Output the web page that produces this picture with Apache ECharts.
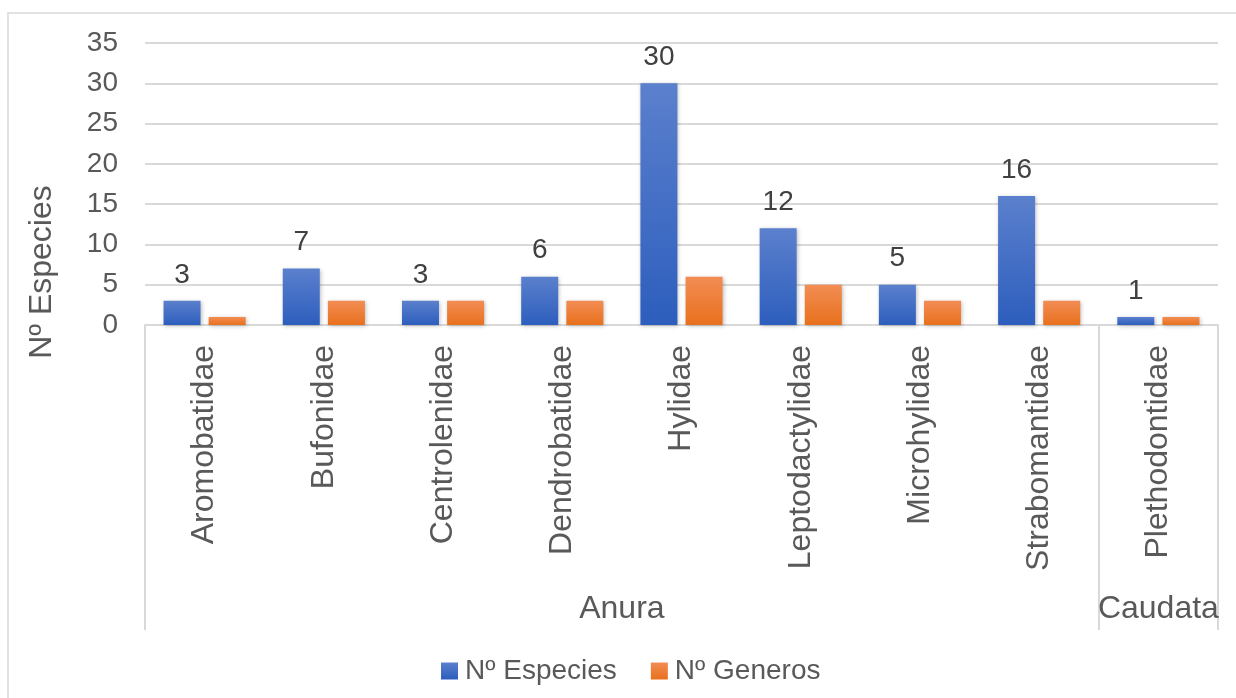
<!DOCTYPE html>
<html>
<head>
<meta charset="utf-8">
<script src="https://cdn.jsdelivr.net/npm/echarts@6/dist/echarts.min.js"></script>
<style>
  html, body { margin: 0; padding: 0; background: #ffffff; }
  #chart { width: 1236px; height: 698px; }
</style>
</head>
<body>
<div id="chart"></div>
<script>
// Families (inner level) and their order (outer level)
const families = ['Aromobatidae', 'Bufonidae', 'Centrolenidae', 'Dendrobatidae', 'Hylidae',
                  'Leptodactylidae', 'Microhylidae', 'Strabomantidae', 'Plethodontidae'];
const orders = ['Anura', 'Caudata'];
const orderSpans = [8, 1];           // number of families in each order
const especies = [3, 7, 3, 6, 30, 12, 5, 16, 1];
const generos  = [1, 3, 3, 3, 6, 5, 3, 3, 1];
const yTicks = [0, 5, 10, 15, 20, 25, 30, 35];

const FONT = '"Liberation Sans", Arial, sans-serif';
const TEXT = '#595959';
const GRID = '#d9d9d9';

// Outer-level axis uses half-category steps so group boundaries and group centres fall on points
const halfSteps = families.length * 2 + 1;
const groupKeys = [];
for (let i = 0; i < halfSteps; i++) groupKeys.push('h' + i);
const boundaryIdx = [0];
const labelIdx = {};
let acc = 0;
orderSpans.forEach((span, k) => {
  labelIdx[acc + span] = orders[k];   // centre of group in half steps
  acc += span * 2;
  boundaryIdx.push(acc);
});

const chart = echarts.init(document.getElementById('chart'), null, { renderer: 'canvas' });

const blueFill = new echarts.graphic.LinearGradient(0, 0, 0, 1, [
  { offset: 0, color: '#5b80cd' }, { offset: 1, color: '#2d5ebd' }
]);
const orangeFill = new echarts.graphic.LinearGradient(0, 0, 0, 1, [
  { offset: 0, color: '#f28d54' }, { offset: 1, color: '#e8701d' }
]);

chart.setOption({
  animation: false,
  backgroundColor: '#ffffff',
  textStyle: { fontFamily: FONT },
  grid: { left: 145, right: 18, top: 43, bottom: 373, containLabel: false },
  legend: {
    left: 436, top: 652,
    itemWidth: 17, itemHeight: 17, itemGap: 34,
    icon: 'rect',
    textStyle: { fontFamily: FONT, fontSize: 28, color: TEXT, padding: [0, 0, 0, 2] },
    data: ['Nº Especies', 'Nº Generos']
  },
  xAxis: [
    {
      type: 'category',
      data: families,
      axisLine: { show: true, lineStyle: { color: GRID, width: 2 } },
      axisTick: { show: false },
      axisLabel: { rotate: 90, margin: 20, fontSize: 32, color: TEXT, fontFamily: FONT, interval: 0 },
      splitLine: { show: false }
    },
    {
      type: 'category',
      position: 'bottom',
      boundaryGap: false,
      data: groupKeys,
      axisLine: { show: false },
      axisTick: {
        show: true, length: 305,
        interval: (idx) => boundaryIdx.indexOf(idx) !== -1,
        lineStyle: { color: GRID, width: 2 }
      },
      axisLabel: {
        show: true, margin: 268, fontSize: 32, color: TEXT, fontFamily: FONT,
        interval: (idx) => labelIdx[idx] !== undefined,
        formatter: (val, idx) => labelIdx[idx] || ''
      },
      splitLine: { show: false }
    }
  ],
  yAxis: {
    type: 'value',
    min: yTicks[0], max: yTicks[yTicks.length - 1], interval: 5,
    axisLine: { show: false },
    axisTick: { show: false },
    axisLabel: { margin: 27, fontSize: 28, color: TEXT, fontFamily: FONT },
    splitLine: { lineStyle: { color: GRID, width: 2 } }
  },
  graphic: [
    {
      type: 'rect', silent: true, z: -1,
      shape: { x: 8, y: 13, width: 1300, height: 800 },
      style: { fill: 'none', stroke: GRID, lineWidth: 1.5 }
    },
    {
      type: 'text', x: 42, y: 272, rotation: Math.PI / 2,
      style: { text: 'Nº Especies', fontSize: 32, fontFamily: FONT, fill: TEXT, align: 'center', verticalAlign: 'middle' }
    }
  ],
  series: [
    {
      name: 'Nº Especies', type: 'bar', data: especies,
      barWidth: 37, barGap: '22%',
      itemStyle: { color: blueFill, shadowBlur: 4, shadowColor: 'rgba(0,0,0,0.25)', shadowOffsetX: 1, shadowOffsetY: 1 },
      label: { show: true, position: 'top', distance: 12, fontSize: 28, color: '#404040', fontFamily: FONT }
    },
    {
      name: 'Nº Generos', type: 'bar', data: generos,
      barWidth: 37,
      itemStyle: { color: orangeFill, shadowBlur: 4, shadowColor: 'rgba(0,0,0,0.25)', shadowOffsetX: 1, shadowOffsetY: 1 }
    }
  ]
});
</script>
</body>
</html>
